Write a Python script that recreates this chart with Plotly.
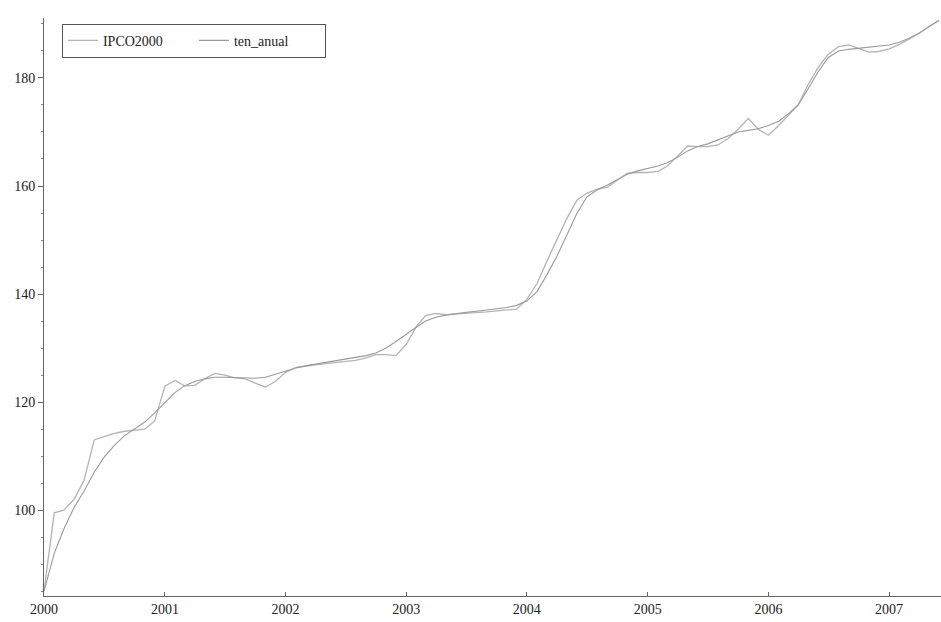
import plotly.graph_objects as go
import pandas as pd

start = "2000-01-01"
n_months = 90
dates = pd.date_range(start, periods=n_months, freq="MS")

ipco2000 = [
    85.0, 99.5, 100.0, 102.0, 105.5, 113.0, 113.6, 114.2, 114.6, 114.8, 115.0, 116.5,
    123.0, 124.0, 123.0, 123.1, 124.3, 125.3, 125.0, 124.5, 124.3, 123.5, 122.8, 123.8,
    125.5, 126.4, 126.7, 126.9, 127.1, 127.3, 127.5, 127.7, 128.2, 128.8, 128.8, 128.6,
    130.7, 134.0, 136.0, 136.4, 136.2, 136.3, 136.5, 136.6, 136.7, 136.9, 137.0, 137.2,
    139.0, 142.0, 146.0, 150.0, 154.0, 157.4, 158.7, 159.4, 159.8, 161.1, 162.4, 162.5,
    162.5, 162.7, 163.7, 165.5, 167.4, 167.3, 167.3, 167.6, 168.8, 170.5, 172.5, 170.5,
    169.4, 171.2, 173.0, 175.0, 178.8, 182.0, 184.4, 185.8, 186.1, 185.5, 184.8, 184.9,
    185.4, 186.2, 187.2, 188.2, 189.5, 190.6,
]

ten_anual = [
    85.0, 92.0, 96.5, 100.5, 103.5, 107.0, 109.8, 112.0, 113.8, 115.0, 116.3, 118.0,
    120.0, 121.8, 123.0, 123.8, 124.3, 124.6, 124.6, 124.5, 124.4, 124.4, 124.6, 125.2,
    125.8, 126.3, 126.7, 127.0, 127.3, 127.6, 127.9, 128.2, 128.6, 129.1, 130.0, 131.2,
    132.6, 133.9, 135.0, 135.7, 136.1, 136.4, 136.6, 136.8, 137.0, 137.2, 137.5, 137.9,
    138.7, 140.5, 143.5, 147.0, 151.0, 155.0, 158.0, 159.3, 160.2, 161.2, 162.2, 162.8,
    163.2, 163.7, 164.3, 165.3, 166.5, 167.3, 167.8, 168.5, 169.3, 170.0, 170.3, 170.6,
    171.2, 172.0, 173.3, 175.0, 178.0, 181.2, 183.8, 185.0, 185.3, 185.5, 185.6, 185.8,
    186.1, 186.6, 187.3, 188.3, 189.5, 190.7,
]

year_ticks = ["2000", "2001", "2002", "2003", "2004", "2005", "2006", "2007"]
y_ticks = [100, 120, 140, 160, 180]

fig = go.Figure()
fig.add_trace(go.Scatter(x=dates, y=ipco2000, mode="lines", name="IPCO2000",
                         line=dict(color="#b4b4b4", width=1.3)))
fig.add_trace(go.Scatter(x=dates, y=ten_anual, mode="lines", name="ten_anual",
                         line=dict(color="#9a9a9a", width=1.1)))

fig.update_layout(
    width=941, height=622,
    margin=dict(l=44, r=0, t=18, b=26),
    paper_bgcolor="white", plot_bgcolor="white",
    font=dict(family="Liberation Serif", size=14, color="#222222"),
    showlegend=True,
    legend=dict(
        orientation="h", x=0.02, y=0.99, xanchor="left", yanchor="top",
        bordercolor="#555555", borderwidth=1, bgcolor="rgba(255,255,255,0.9)",
        font=dict(family="Liberation Serif", size=14, color="#222222"),
        entrywidth=86, entrywidthmode="pixels",
        tracegroupgap=0,
    ),
    xaxis=dict(
        type="date",
        range=["2000-01-01", "2007-06-07"],
        tickvals=[f"{y}-01-01" for y in year_ticks],
        ticktext=year_ticks,
        showgrid=False, zeroline=False,
        showline=True, linecolor="#666666", linewidth=1,
        ticks="inside", ticklen=4, tickcolor="#666666",
        tickfont=dict(family="Liberation Serif", size=14, color="#222222"),
    ),
    yaxis=dict(
        range=[84.1, 191.1],
        tickvals=y_ticks,
        showgrid=False, zeroline=False,
        showline=True, linecolor="#666666", linewidth=1,
        ticks="outside", ticklen=5, tickcolor="#666666",
        minor=dict(dtick=5, ticks="outside", ticklen=2, tickcolor="#888888"),
        tickfont=dict(family="Liberation Serif", size=14, color="#222222"),
    ),
)

fig.write_html(
    "out.html",
    config={"displayModeBar": False},
    post_script="document.body.style.margin='0';document.body.style.overflow='hidden';",
)
